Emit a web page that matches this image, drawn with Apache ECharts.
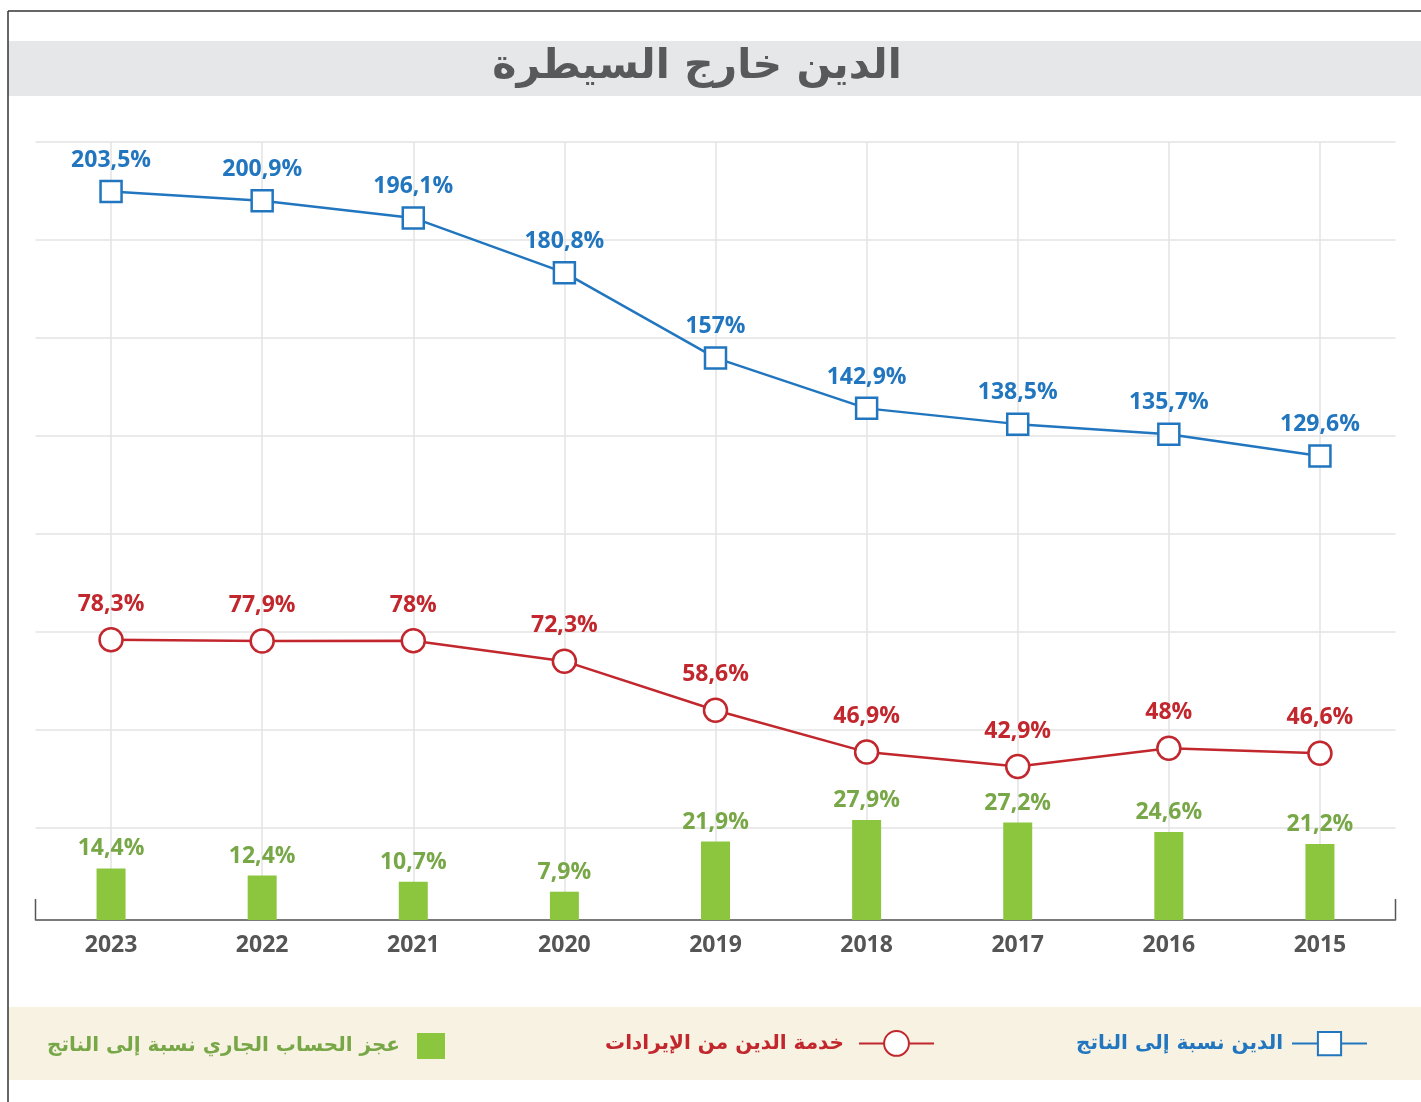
<!DOCTYPE html>
<html>
<head>
<meta charset="utf-8" />
<script src="https://cdn.jsdelivr.net/npm/echarts@6/dist/echarts.min.js"></script>
<style>
  html, body { margin: 0; padding: 0; background: #fff; }
  #chart { width: 1421px; height: 1102px; }
</style>
</head>
<body>
<div id="chart"></div>
<script>
const years = ["2023", "2022", "2021", "2020", "2019", "2018", "2017", "2016", "2015"];
const debtToGdp = [203.5, 200.9, 196.1, 180.8, 157, 142.9, 138.5, 135.7, 129.6];
const debtService = [78.3, 77.9, 78, 72.3, 58.6, 46.9, 42.9, 48, 46.6];
const currentDeficit = [14.4, 12.4, 10.7, 7.9, 21.9, 27.9, 27.2, 24.6, 21.2];

const nameBlue = "الدين نسبة إلى الناتج";
const nameRed = "خدمة الدين من الإيرادات";
const nameGreen = "عجز الحساب الجاري نسبة إلى الناتج";

const BLUE = "#2176bf";
const RED = "#c1272d";
const GREEN = "#8cc63f";
const GREEN_TEXT = "#78a747";

const pct = (p) => String(p.value).replace(".", ",") + "%"; // فاصلة عشرية
const numFont = "'Open Sans', 'Noto Sans', sans-serif";
const arFont = "'DejaVu Sans', sans-serif";

const chart = echarts.init(document.getElementById("chart"));

const options = {
  backgroundColor: "#fff",
  animation: false,
  title: {
    text: "الدين خارج السيطرة",
    left: 692,
    textAlign: "center",
    top: 42,
    textStyle: { fontFamily: arFont, fontWeight: "bold", fontSize: 41, color: "#58595b" },
  },
  graphic: [
    { type: "rect", z: -10, shape: { x: 8, y: 41, width: 1413, height: 55 }, style: { fill: "#e6e7e8" } },
    { type: "rect", z: -10, shape: { x: 8, y: 1007, width: 1413, height: 73 }, style: { fill: "#f7f2e1" } },
    { type: "line", shape: { x1: 8, y1: 11, x2: 1421, y2: 11 }, style: { stroke: "#333", lineWidth: 1.5 } },
    { type: "line", shape: { x1: 8, y1: 11, x2: 8, y2: 1102 }, style: { stroke: "#333", lineWidth: 1.5 } },
    { type: "line", shape: { x1: 35.5, y1: 899, x2: 35.5, y2: 920 }, style: { stroke: "#555", lineWidth: 1.5 } },
    { type: "line", shape: { x1: 1395.5, y1: 899, x2: 1395.5, y2: 920 }, style: { stroke: "#555", lineWidth: 1.5 } },
  ],
  legend: [
    {
      data: [nameBlue],
      right: 53,
      top: 1031,
      padding: 0,
      align: "right",
      itemWidth: 75,
      itemHeight: 29,
      textStyle: { fontFamily: arFont, fontWeight: "bold", fontSize: 20, color: BLUE, padding: [0, 4, 0, 0] },
    },
    {
      data: [nameRed],
      right: 486,
      top: 1030,
      padding: 0,
      align: "right",
      itemWidth: 75,
      itemHeight: 31,
      textStyle: { fontFamily: arFont, fontWeight: "bold", fontSize: 20, color: RED, padding: [0, 10, 0, 0] },
    },
    {
      data: [{ name: nameGreen, icon: "rect" }],
      right: 976,
      top: 1033,
      padding: 0,
      align: "right",
      itemWidth: 28,
      itemHeight: 26,
      textStyle: { fontFamily: arFont, fontWeight: "bold", fontSize: 20, color: GREEN_TEXT, padding: [0, 12, 0, 0] },
    },
  ],
  grid: { left: 35.5, right: 25.5, top: 142, bottom: 182 },
  xAxis: {
    type: "category",
    data: years,
    boundaryGap: true,
    axisLine: { lineStyle: { color: "#555", width: 1.5 } },
    axisTick: { show: false },
    axisLabel: { margin: 14, fontFamily: numFont, fontWeight: "bold", fontSize: 23, color: "#555" },
    splitLine: { show: true, alignWithLabel: true, lineStyle: { color: "#e3e3e3", width: 1.5 } },
  },
  yAxis: [
    {
      type: "value",
      min: 0,
      max: 217.3,
      show: false,
      splitLine: { show: false },
    },
    {
      // خطوط الشبكة الأفقية فقط
      type: "value",
      inverse: true,
      min: 0,
      max: 778 / 98,
      interval: 1,
      axisLine: { show: false },
      axisTick: { show: false },
      axisLabel: { show: false },
      splitLine: { show: true, lineStyle: { color: "#e3e3e3", width: 1.5 } },
    },
  ],
  series: [
    {
      name: nameGreen,
      type: "bar",
      yAxisIndex: 0,
      data: currentDeficit,
      barWidth: 29,
      itemStyle: { color: GREEN },
      label: {
        show: true,
        position: "top",
        distance: 8,
        formatter: pct,
        fontFamily: numFont,
        fontWeight: "bold",
        fontSize: 23,
        color: GREEN_TEXT,
      },
      z: 2,
    },
    {
      name: nameRed,
      type: "line",
      yAxisIndex: 0,
      data: debtService,
      symbol: "circle",
      symbolSize: 23,
      lineStyle: { color: RED, width: 2.5 },
      itemStyle: { color: "#fff", borderColor: RED, borderWidth: 2.5 },
      label: {
        show: true,
        position: "top",
        distance: 11,
        formatter: pct,
        fontFamily: numFont,
        fontWeight: "bold",
        fontSize: 23,
        color: RED,
      },
      z: 3,
    },
    {
      name: nameBlue,
      type: "line",
      yAxisIndex: 0,
      data: debtToGdp,
      symbol: "rect",
      symbolSize: 21,
      lineStyle: { color: BLUE, width: 2.5 },
      itemStyle: { color: "#fff", borderColor: BLUE, borderWidth: 2.5 },
      label: {
        show: true,
        position: "top",
        distance: 8,
        formatter: pct,
        fontFamily: numFont,
        fontWeight: "bold",
        fontSize: 23,
        color: BLUE,
      },
      z: 4,
    },
  ],
};

chart.setOption(options);
</script>
</body>
</html>
